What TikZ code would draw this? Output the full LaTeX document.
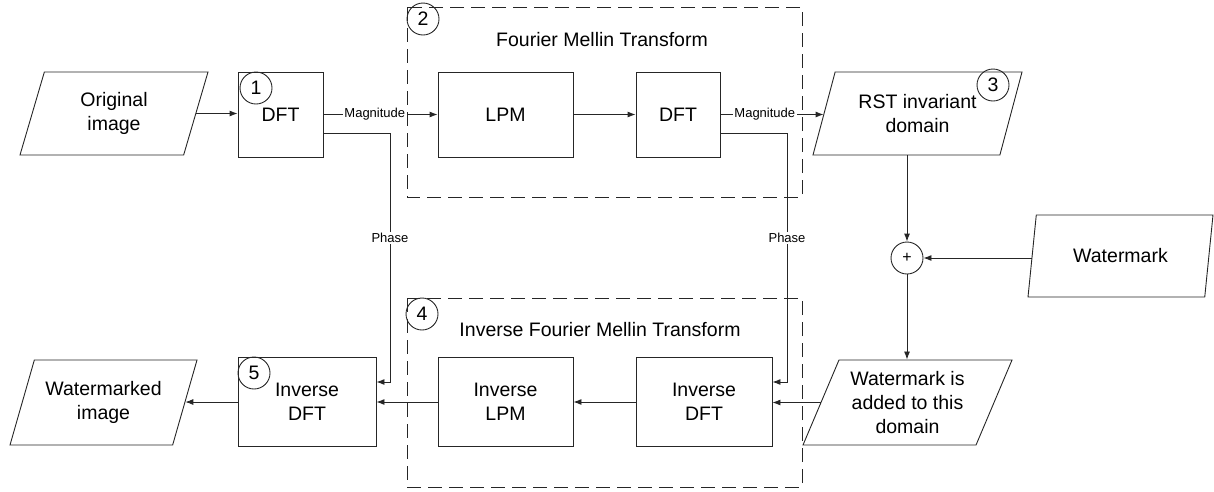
\documentclass[tikz,border=0pt]{standalone}
\usepackage{fontspec}
\setmainfont{Liberation Sans}
\usetikzlibrary{shapes.geometric,arrows.meta,calc}
\newcommand\bigf{\fontsize{19.5}{24}\selectfont}
\newcommand\smallf{\fontsize{13}{15}\selectfont}
\tikzset{
  ln/.style={draw=black!85, line width=0.9pt},
  arr/.style={ln, -{Latex[length=8pt,width=6pt]}},
  box/.style={ln, rectangle, inner sep=0pt, align=center, font=\bigf},
  io/.style={ln, trapezium, trapezium left angle=60, trapezium right angle=120,
    trapezium stretches body=true, inner sep=0pt, align=center, font=\bigf},
  num/.style={ln, circle, minimum size=32pt, inner sep=0pt, font=\bigf},
  grp/.style={ln, dash pattern=on 14pt off 7pt},
  lbl/.style={fill=white, inner sep=1.5pt, font=\smallf},
}
\begin{document}
\begin{tikzpicture}[x=1pt,y=-1pt]
\useasboundingbox (0,0) rectangle (1214,491);

% dashed group frames
\draw[grp] (407,7) rectangle (802,197);
\draw[grp] (407,298) rectangle (802,487);
\node[font=\bigf] (fmt) at (602,40) {Fourier Mellin Transform};
\node[font=\bigf] (ifmt) at (600,330) {Inverse Fourier Mellin Transform};

% top row
\node[io, minimum width=188pt, minimum height=83pt] (orig) at (114,113.5) {Original\\image};
\node[box, minimum width=85pt, minimum height=85pt] (dft1) at (280.5,114.5) {DFT};
\node[box, minimum width=135pt, minimum height=85pt] (lpm) at (505.5,114.5) {LPM};
\node[box, minimum width=84pt, minimum height=85pt] (dft2) at (678,114.5) {DFT};
\node[io, minimum width=209pt, minimum height=83pt] (rst) at (917.5,113.5) {RST invariant\\domain};

% right column
\node[ln, circle, minimum size=32pt, inner sep=0pt, font=\fontsize{16}{18}\selectfont] (plus) at (907,258) {+};
\node[io, minimum width=185pt, minimum height=82pt] (wm) at (1120.5,256) {Watermark};

% bottom row
\node[io, minimum width=209pt, minimum height=85pt] (wmadd) at (907.5,402.5) {Watermark is\\added to this\\domain};
\node[box, minimum width=136pt, minimum height=89pt] (idft4) at (704,402) {Inverse\\DFT};
\node[box, minimum width=135pt, minimum height=89pt] (ilpm) at (505.5,402) {Inverse\\LPM};
\node[box, minimum width=138pt, minimum height=89pt] (idft5) at (307,402) {Inverse\\DFT};
\node[io, minimum width=187pt, minimum height=85pt] (wmkd) at (103.5,402.5) {Watermarked\\image};

% step numbers
\node[num] (n1) at (256,88) {1};
\node[num] (n2) at (423,19) {2};
\node[num] (n3) at (993,85) {3};
\node[num] (n4) at (422,314) {4};
\node[num] (n5) at (254,373) {5};

% connectors
\draw[arr] (orig.east) -- (orig.east -| dft1.west);
\draw[arr] (dft1.east) -- node[lbl, pos=0.45] {Magnitude} (lpm.west);
\draw[arr] (lpm.east) -- (dft2.west);
\draw[arr] (dft2.east) -- node[lbl, pos=0.43] {Magnitude} (dft2.east -| rst.west);

\coordinate (p1x) at (390,0);
\coordinate (p2x) at (787,0);
\coordinate (ph1s) at ([yshift=-19pt]dft1.east);
\coordinate (ph1e) at ([yshift=20pt]idft5.east);
\coordinate (ph2s) at ([yshift=-19pt]dft2.east);
\coordinate (ph2e) at ([yshift=20pt]idft4.east);
\draw[arr] (ph1s) -- (ph1s -| p1x) -- node[lbl, pos=0.42] {Phase} (ph1e -| p1x) -- (ph1e);
\draw[arr] (ph2s) -- (ph2s -| p2x) -- node[lbl, pos=0.42] {Phase} (ph2e -| p2x) -- (ph2e);

\draw[arr] (rst.south -| plus.north) -- (plus.north);
\draw[arr] (plus.east -| wm.west) -- (plus.east);
\draw[arr] (plus.south) -- (wmadd.north -| plus.south);
\draw[arr] (wmadd.west) -- (wmadd.west -| idft4.east);
\draw[arr] (idft4.west) -- (ilpm.east);
\draw[arr] (ilpm.west) -- (idft5.east);
\draw[arr] (idft5.west) -- (idft5.west -| wmkd.east);
\end{tikzpicture}
\end{document}
